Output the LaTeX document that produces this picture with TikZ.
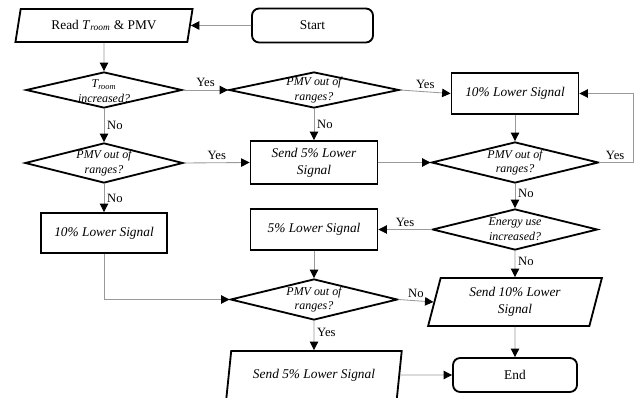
\documentclass[tikz,border=0pt]{standalone}
\usepackage{fontspec}
\setmainfont{Liberation Serif}
\usetikzlibrary{shapes.geometric,arrows.meta}

\begin{document}
\begin{tikzpicture}[x=0.025cm,y=-0.025cm,
    box/.style={draw,line width=1.3pt,rectangle,minimum width=3.175cm,minimum height=1.025cm,
      align=center,inner sep=1pt,font=\fontsize{9.5}{12}\selectfont\itshape},
    term/.style={draw,line width=1.3pt,rounded corners=0.18cm,minimum height=0.85cm,
      font=\fontsize{9.5}{12}\selectfont},
    io/.style={draw,line width=1.3pt,trapezium,trapezium left angle=76,trapezium right angle=104,
      trapezium stretches=true,minimum height=1.2cm,align=center,inner sep=1pt,
      font=\fontsize{9.5}{12}\selectfont\itshape},
    decision/.style={draw,line width=1.3pt,diamond,inner sep=0pt,minimum height=1.025cm},
    dtext/.style={align=center,inner sep=0pt,font=\fontsize{8.5}{10.5}\selectfont\itshape},
    flow/.style={draw=black!40,line width=0.6pt,-{Triangle[black,length=6pt,width=6pt]}},
    lab/.style={font=\fontsize{9}{10}\selectfont,inner sep=2pt}]
  \useasboundingbox (0,0) rectangle (643,398);

  % first row
  \node[io,minimum width=4.45cm,minimum height=0.825cm,font=\fontsize{9.5}{12}\selectfont] (read) at (104,25.5)
    {Read \textit{T}\textsubscript{\textit{room}} \& PMV};
  \node[term,minimum width=3.025cm] (start) at (312.5,25.5) {Start};

  % decisions
  \node[decision,minimum width=3.9cm,minimum height=0.9cm] (d1) at (104,90) {};
  \node[decision,minimum width=4.25cm,minimum height=0.9cm] (d2) at (314,90) {};
  \node[decision,minimum width=3.95cm,minimum height=1cm] (d3) at (104,163) {};
  \node[decision,minimum width=4.175cm] (d4) at (515,162.5) {};
  \node[decision,minimum width=4.125cm] (d5) at (515,229.5) {};
  \node[decision,minimum width=4.175cm] (d6) at (314,299.5) {};
  \node[dtext] (d1t) at ([yshift=-1pt]d1) {\textit{T}\textsubscript{\textit{room}}\\increased?};
  \node[dtext] (d5t) at (d5) {Energy use\\increased?};
  \foreach \d in {d2,d3,d4,d6} % same question
    \node[dtext] (\d t) at (\d) {PMV out of\\ranges?};

  % actions
  \node[box,minimum height=1.025cm] (box10a) at (515,93.5) {10\% Lower Signal};
  \node[box,minimum height=1.075cm] (send5) at (314,162.5) {Send 5\% Lower\\Signal};
  \node[box] (box5) at (314,229.5) {5\% Lower Signal};
  \node[box,minimum width=3.15cm,minimum height=1cm] (box10b) at (104,233) {10\% Lower Signal};
  \node[io,minimum width=4.375cm] (send10) at (515,302) {Send 10\% Lower\\Signal};
  \node[io,minimum width=4.4cm] (send5p) at (314,375) {Send 5\% Lower Signal};
  \node[term,minimum width=3.1cm] (end) at (515,375) {End};
  \coordinate (fb) at (633,93.5);

  % connectors
  \draw[flow] (start) -- (read);
  \foreach \a/\b in {read/d1,box10a/d4,box5/d6,send10/end} % plain downward arrows
    \draw[flow] (\a.south) -- (\b.north);
  \draw[flow] (d1.east) -- node[lab,above] {Yes} (d2.west);
  \draw[flow] (d2.east) -- node[lab,above] {Yes} (box10a.west);
  \draw[flow] (d1.south) -- node[lab,right] {No} (d3.north);
  \draw[flow] (d2.south) -- node[lab,right] {No} (send5.north);
  \draw[flow] (d3.east) -- node[lab,above] {Yes} (send5.west);
  \draw[flow] (send5.east) -- (d4.west);
  \draw[flow] (d4.east) -| node[lab,pos=0.42,above left] {Yes} (fb) -- (box10a.east);
  \draw[flow] (d4.south) -- node[lab,right,pos=0.4] {No} (d5.north);
  \draw[flow] (d5.west) -- node[lab,above] {Yes} (box5.east);
  \draw[flow] (d5.south) -- node[lab,right,pos=0.4] {No} (send10.north);
  \draw[flow] (d3.south) -- node[lab,right] {No} (box10b.north);
  \draw[flow] (box10b.south) |- (d6.west);
  \draw[flow] (d6.east) -- node[lab,above] {No} (send10.west);
  \draw[flow] (d6.south) -- node[lab,right,pos=0.4] {Yes} (send5p.north);
  \draw[flow] (send5p.east) -- (end.west);
\end{tikzpicture}
\end{document}
